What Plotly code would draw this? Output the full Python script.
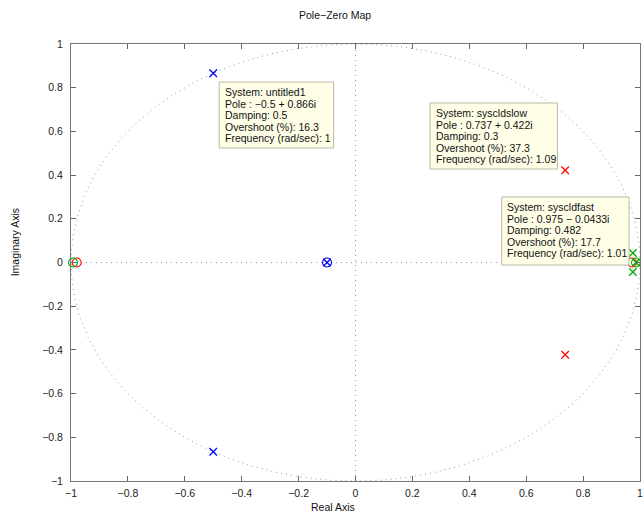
import numpy as np
import plotly.graph_objects as go

# ---------------- data ----------------
# System: untitled1 (blue)
untitled1_pole_re = [-0.5, -0.5, -0.1]
untitled1_pole_im = [0.866, -0.866, 0.0]
untitled1_zero_re = [-0.1]
untitled1_zero_im = [0.0]

# System: syscldslow (red)
slow_pole_re = [0.737, 0.737]
slow_pole_im = [0.422, -0.422]
slow_zero_re = [-0.98, 0.972]
slow_zero_im = [0.0, 0.0]

# System: syscldfast (green)
fast_pole_re = [0.975, 0.975, 0.986]
fast_pole_im = [0.0433, -0.0433, 0.0]
fast_zero_re = [-0.993, 0.986]
fast_zero_im = [0.0, 0.0]

tick_vals = [-1, -0.8, -0.6, -0.4, -0.2, 0, 0.2, 0.4, 0.6, 0.8, 1]
tick_text = ["\u22121", "\u22120.8", "\u22120.6", "\u22120.4", "\u22120.2", "0",
             "0.2", "0.4", "0.6", "0.8", "1"]

tip_untitled1 = ["System: untitled1", "Pole : \u22120.5 + 0.866i", "Damping: 0.5",
                 "Overshoot (%): 16.3", "Frequency (rad/sec): 1"]
tip_slow = ["System: syscldslow", "Pole : 0.737 + 0.422i", "Damping: 0.3",
            "Overshoot (%): 37.3", "Frequency (rad/sec): 1.09"]
tip_fast = ["System: syscldfast", "Pole : 0.975 \u2212 0.0433i", "Damping: 0.482",
            "Overshoot (%): 17.7", "Frequency (rad/sec): 1.01"]

# ---------------- layout constants ----------------
W, H = 643, 514
ML, MR, MT, MB = 71, 0, 44, 33
PW, PH = W - ML - MR, H - MT - MB
FONT = "Liberation Sans, Arial, Helvetica, sans-serif"
BLUE, RED, GREEN = "#0000ff", "#ff0000", "#00a800"
GRID = "#9a9a9a"


def px_x(px):
    return (px - ML) / PW


def px_y(py):
    return (H - MB - py) / PH


fig = go.Figure()

# unit circle (reference grid)
theta = np.linspace(0, 2 * np.pi, 400)
fig.add_trace(go.Scatter(x=np.cos(theta), y=np.sin(theta), mode="lines",
                         line=dict(color=GRID, width=1, dash="1px,4px"),
                         hoverinfo="skip", showlegend=False))
# axis lines through origin
fig.add_trace(go.Scatter(x=[-1, 1], y=[0, 0], mode="lines",
                         line=dict(color=GRID, width=1, dash="1px,4px"),
                         hoverinfo="skip", showlegend=False))
fig.add_trace(go.Scatter(x=[0, 0], y=[-1, 1], mode="lines",
                         line=dict(color=GRID, width=1, dash="1px,4px"),
                         hoverinfo="skip", showlegend=False))


def add_sys(pre, pim, zre, zim, color):
    fig.add_trace(go.Scatter(x=zre, y=zim, mode="markers", cliponaxis=False,
                             marker=dict(symbol="circle-open", size=9,
                                         color=color, line=dict(width=1.1, color=color)),
                             showlegend=False))
    fig.add_trace(go.Scatter(x=pre, y=pim, mode="markers", cliponaxis=False,
                             marker=dict(symbol="x-thin-open", size=7.5,
                                         color=color, line=dict(width=1.3, color=color)),
                             showlegend=False))


add_sys(untitled1_pole_re, untitled1_pole_im, untitled1_zero_re, untitled1_zero_im, BLUE)
add_sys(slow_pole_re, slow_pole_im, slow_zero_re, slow_zero_im, RED)
add_sys(fast_pole_re, fast_pole_im, fast_zero_re, fast_zero_im, GREEN)

shapes = []
annotations = []


def add_tip(lines, left, top, width, height, spacing=11.6):
    shapes.append(dict(type="rect", xref="paper", yref="paper",
                       x0=px_x(left), x1=px_x(left + width),
                       y0=px_y(top), y1=px_y(top + height),
                       fillcolor="#ffffe8", line=dict(color="#b8b8a8", width=1),
                       layer="above"))
    for i, t in enumerate(lines):
        annotations.append(dict(text=t, xref="paper", yref="paper",
                                x=px_x(left + 3.5), y=px_y(top + 10 + i * spacing),
                                xanchor="left", yanchor="middle", showarrow=False,
                                font=dict(family=FONT, size=10.5, color="#111111")))


add_tip(tip_untitled1, 220, 82, 115, 66)
add_tip(tip_slow, 432, 103, 128, 66)
add_tip(tip_fast, 504, 197, 128, 68)

# title and axis labels
annotations.append(dict(text="Pole\u2212Zero Map", xref="paper", yref="paper",
                        x=px_x(336), y=px_y(15), xanchor="center", yanchor="middle",
                        showarrow=False, font=dict(family=FONT, size=10.5, color="#111111")))
annotations.append(dict(text="Real Axis", xref="paper", yref="paper",
                        x=px_x(334), y=px_y(507), xanchor="center", yanchor="middle",
                        showarrow=False, font=dict(family=FONT, size=10.5, color="#111111")))
annotations.append(dict(text="Imaginary Axis", xref="paper", yref="paper",
                        x=px_x(15), y=px_y(242), xanchor="center", yanchor="middle",
                        textangle=-90, showarrow=False,
                        font=dict(family=FONT, size=10.5, color="#111111")))

axis_common = dict(tickvals=tick_vals, ticktext=tick_text, ticks="inside", ticklen=5,
                   tickcolor="#666666", showline=True, linecolor="#777777", linewidth=1,
                   mirror="ticks", showgrid=False, zeroline=False,
                   tickfont=dict(family=FONT, size=10.5, color="#222222"),
                   range=[-1, 1], ticklabeloverflow="allow", fixedrange=True)

fig.update_layout(
    width=W, height=H,
    margin=dict(l=ML, r=MR, t=MT, b=MB, pad=0),
    paper_bgcolor="white", plot_bgcolor="white",
    xaxis=dict(axis_common, ticklabelstandoff=2),
    yaxis=dict(axis_common, ticklabelstandoff=5),
    shapes=shapes,
    annotations=annotations,
    showlegend=False,
)

fig.write_html("out.html")
